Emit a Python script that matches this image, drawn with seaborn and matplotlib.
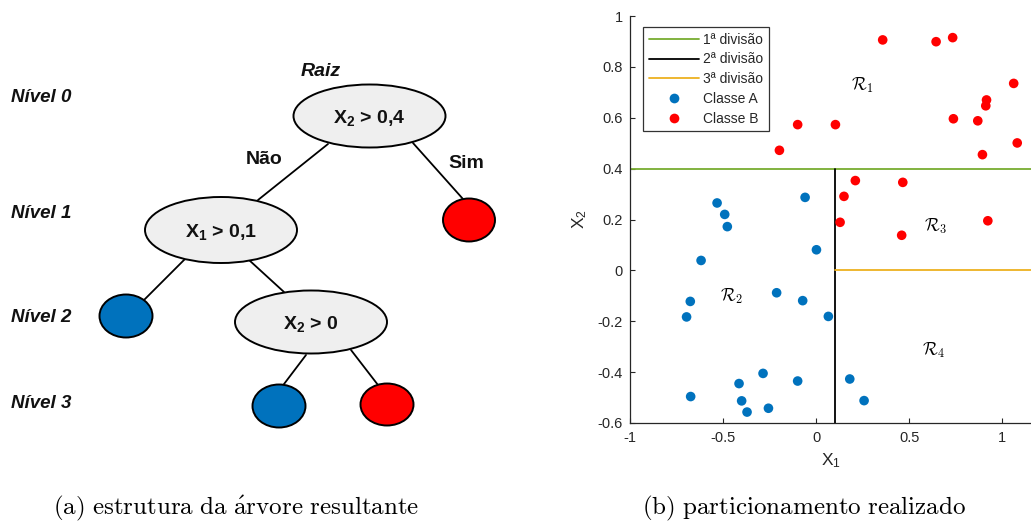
import numpy as np
import pandas as pd
import matplotlib
matplotlib.use("Agg")
import matplotlib.pyplot as plt
import seaborn as sns
from matplotlib.patches import Ellipse
from matplotlib.lines import Line2D

# ---------------- data ----------------
classA_x1 = [-0.059, -0.532, -0.491, -0.477, 0.002, -0.618, -0.212, -0.072, -0.676, -0.696,
             0.066, -0.285, -0.099, -0.414, -0.674, -0.400, -0.256, -0.371, 0.181, 0.258]
classA_x2 = [0.287, 0.265, 0.220, 0.172, 0.081, 0.039, -0.088, -0.119, -0.122, -0.183,
             -0.181, -0.405, -0.435, -0.445, -0.496, -0.513, -0.542, -0.557, -0.427, -0.512]
classB_x1 = [-0.197, -0.099, 0.104, 0.358, 0.645, 0.734, 1.062, 0.916, 0.912, 0.738,
             0.869, 1.081, 0.894, 0.211, 0.466, 0.150, 0.129, 0.923, 0.460]
classB_x2 = [0.472, 0.573, 0.573, 0.906, 0.899, 0.915, 0.735, 0.670, 0.647, 0.596,
             0.588, 0.501, 0.455, 0.353, 0.346, 0.291, 0.189, 0.195, 0.138]
split1_x2 = 0.4
split2_x1 = 0.1
split3_x2 = 0.0
legend_labels = ["1ª divisão", "2ª divisão", "3ª divisão", "Classe A", "Classe B"]
region_labels = [r"$\mathcal{R}_1$", r"$\mathcal{R}_2$", r"$\mathcal{R}_3$", r"$\mathcal{R}_4$"]
xticks = [-1, -0.5, 0, 0.5, 1]
xticklabels = ["-1", "-0.5", "0", "0.5", "1"]
yticks = [-0.6, -0.4, -0.2, 0, 0.2, 0.4, 0.6, 0.8, 1]
yticklabels = ["-0.6", "-0.4", "-0.2", "0", "0.2", "0.4", "0.6", "0.8", "1"]

C_A = "#0072BD"
C_B = "#FF0000"
C_G = "#77AC30"
C_O = "#EDB120"

sns.set_theme(style="white")
plt.rcParams["font.family"] = ["Liberation Sans", "DejaVu Sans"]
plt.rcParams["mathtext.fontset"] = "custom"
plt.rcParams["mathtext.rm"] = "Liberation Sans"
plt.rcParams["mathtext.bf"] = "Liberation Sans:bold"
plt.rcParams["mathtext.it"] = "Liberation Sans:italic"
plt.rcParams["text.color"] = "black"

W, H = 1031, 528
fig = plt.figure(figsize=(W / 100, H / 100), dpi=100)

# ---------------- right: scatter ----------------
ax = fig.add_axes([630 / W, 1 - 423 / H, 401 / W, 407 / H])
df = pd.DataFrame({
    "x1": classA_x1 + classB_x1,
    "x2": classA_x2 + classB_x2,
    "classe": ["Classe A"] * len(classA_x1) + ["Classe B"] * len(classB_x1),
})
ax.axhline(split1_x2, color=C_G, lw=1.3, zorder=1)
ax.plot([split2_x1, split2_x1], [-0.6, split1_x2], color="black", lw=1.3, zorder=1)
ax.plot([split2_x1, 1.2], [split3_x2, split3_x2], color=C_O, lw=1.3, zorder=1)
sns.scatterplot(data=df, x="x1", y="x2", hue="classe",
                palette={"Classe A": C_A, "Classe B": C_B},
                s=48, edgecolor="none", linewidth=0, ax=ax, legend=False, zorder=3)
ax.set_xlim(-1, 1.155)
ax.set_ylim(-0.6, 1)
ax.set_xticks(xticks)
ax.set_xticklabels(xticklabels)
ax.set_yticks(yticks)
ax.set_yticklabels(yticklabels)
for s in ["top", "right"]:
    ax.spines[s].set_visible(False)
for s in ["left", "bottom"]:
    ax.spines[s].set_color("#262626")
    ax.spines[s].set_linewidth(0.9)
ax.tick_params(axis="both", direction="in", length=3.5, width=0.8, colors="#262626",
               labelsize=10.5, left=True, bottom=True)
ax.tick_params(axis="x", pad=6)
ax.tick_params(axis="y", pad=5)
ax.set_xlabel("X$_1$", fontsize=12.5, color="#262626", labelpad=4)
ax.set_ylabel("X$_2$", fontsize=12.5, color="#262626", labelpad=6)

reg_pos = [(0.25, 0.73), (-0.455, -0.10), (0.64, 0.175), (0.63, -0.315)]
for (rx, ry), lab in zip(reg_pos, region_labels):
    ax.text(rx, ry, lab, math_fontfamily="cm", fontsize=12.5, ha="center", va="center")

handles = [
    Line2D([], [], color=C_G, lw=1.3),
    Line2D([], [], color="black", lw=1.3),
    Line2D([], [], color=C_O, lw=1.3),
    Line2D([], [], color=C_A, marker="o", ls="none", markersize=7, markeredgewidth=0),
    Line2D([], [], color=C_B, marker="o", ls="none", markersize=7, markeredgewidth=0),
]
leg = ax.legend(handles, legend_labels, loc="upper left",
                bbox_to_anchor=((643 - 630) / 401, (423 - 27) / 407),
                borderaxespad=0, fontsize=10, frameon=True, fancybox=False,
                handlelength=3.6, handletextpad=0.35, labelspacing=0.42,
                borderpad=0.4)
leg.get_frame().set_edgecolor("black")
leg.get_frame().set_linewidth(0.9)
for t in leg.get_texts():
    t.set_color("#262626")

# ---------------- left: tree ----------------
ax0 = fig.add_axes([0, 0, 567 / W, 1])
ax0.set_xlim(0, 567)
ax0.set_ylim(H, 0)
ax0.axis("off")

edges = [((328, 144), (258, 200)), ((413, 143), (463, 199)),
         ((186, 258), (144, 300)), ((249, 260), (284, 292)),
         ((306, 355), (281, 388)), ((351, 350), (378, 385))]
for (a, b) in edges:
    ax0.plot([a[0], b[0]], [a[1], b[1]], color="black", lw=1.3, zorder=1)

nodes = [((369.5, 116), 152, 63, "#EFEFEF", r"$\mathbf{X}_\mathbf{2}$ > 0,4"),
         ((221, 230), 152, 66, "#EFEFEF", r"$\mathbf{X}_\mathbf{1}$ > 0,1"),
         ((311, 322), 152, 63, "#EFEFEF", r"$\mathbf{X}_\mathbf{2}$ > 0"),
         ((469, 220), 52, 43, C_B, None),
         ((126, 316), 53, 43, C_A, None),
         ((279, 406), 53, 43, C_A, None),
         ((387, 404.5), 53, 42, C_B, None)]
for (c, w, h, fc, txt) in nodes:
    ax0.add_patch(Ellipse(c, w, h, facecolor=fc, edgecolor="black", lw=1.4, zorder=2))
    if txt:
        ax0.text(c[0], c[1] + 2, txt, ha="center", va="center", fontsize=14,
                 fontweight="bold", math_fontfamily="custom", zorder=3, color="#111111")

for i, y in enumerate([98, 214, 317, 404]):
    ax0.text(11, y, f"Nível {i}", ha="left", va="center", fontsize=13.5,
             fontweight="bold", fontstyle="italic", color="#111111")
ax0.text(321, 71, "Raiz", ha="center", va="center", fontsize=14,
         fontweight="bold", fontstyle="italic", color="#111111")
ax0.text(264, 160, "Não", ha="center", va="center", fontsize=14, fontweight="bold",
         color="#111111")
ax0.text(466, 164, "Sim", ha="center", va="center", fontsize=14, fontweight="bold",
         color="#111111")

# ---------------- captions ----------------
fig.text(236 / W, 1 - 508 / H, r"$\mathrm{(a)\ estrutura\ da\ \acute{a}rvore\ resultante}$",
         math_fontfamily="cm", fontsize=18, ha="center", va="center")
fig.text(804 / W, 1 - 508 / H, r"$\mathrm{(b)\ particionamento\ realizado}$",
         math_fontfamily="cm", fontsize=18, ha="center", va="center")

fig.savefig("out.png", dpi=100)
